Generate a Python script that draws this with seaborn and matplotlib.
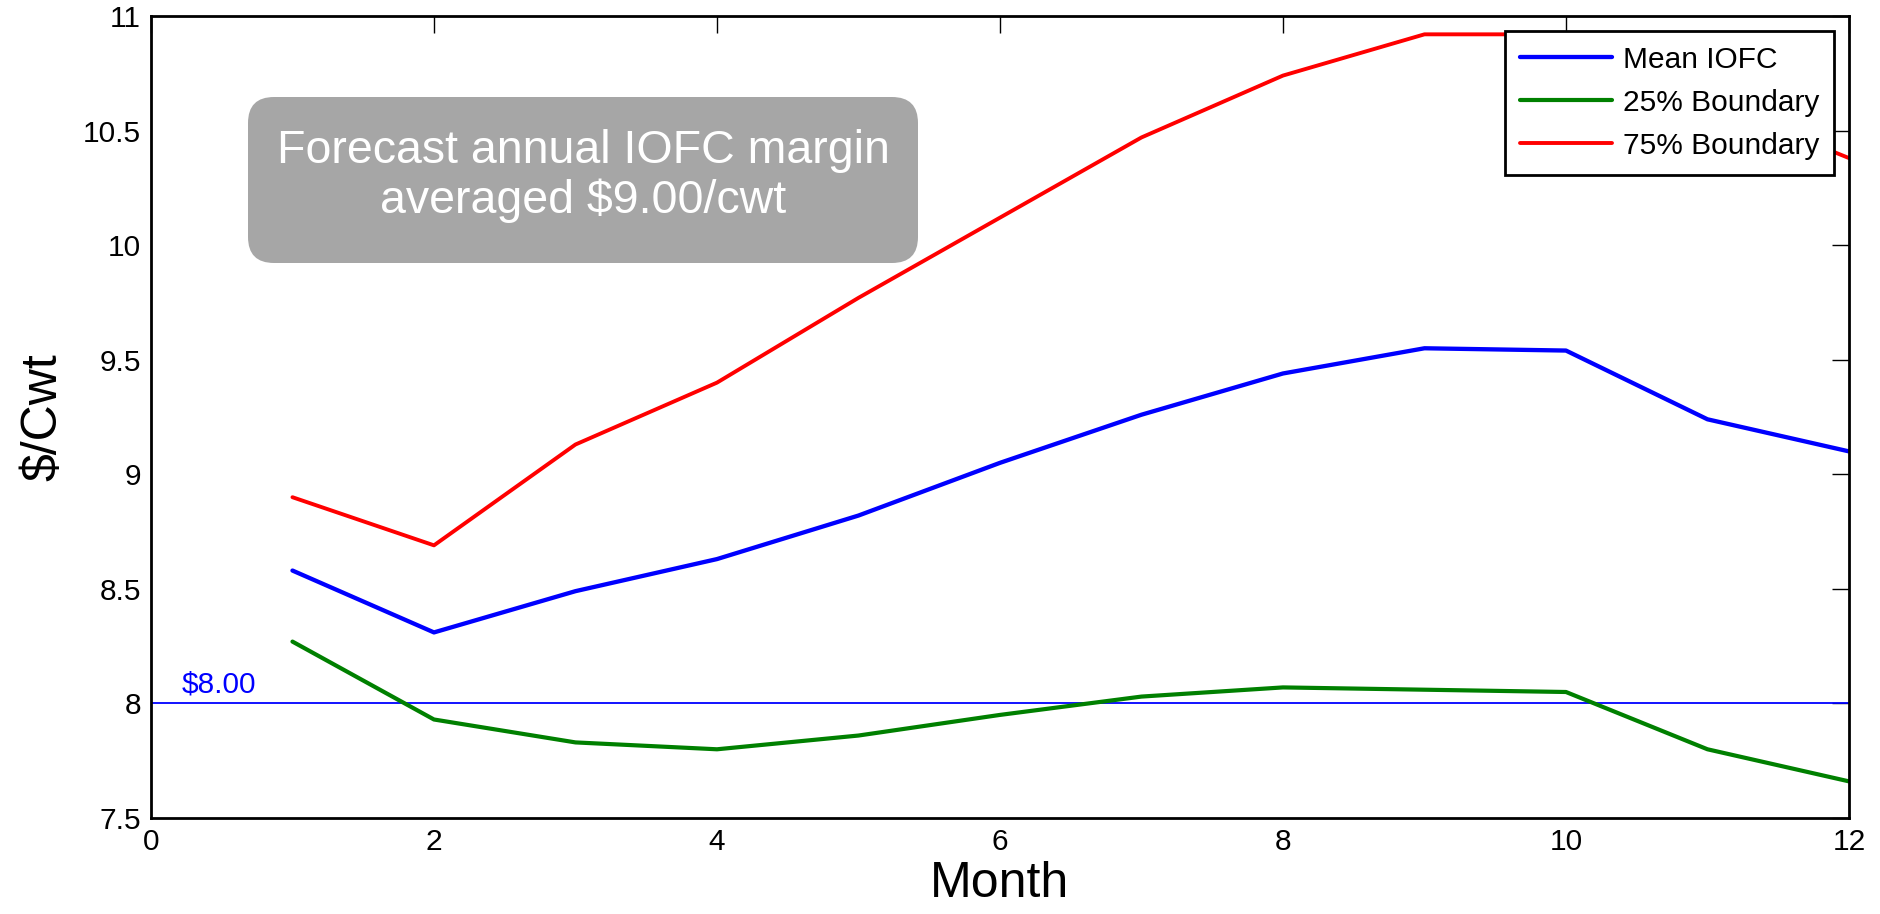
import numpy as np
import pandas as pd
import matplotlib
matplotlib.use("Agg")
import matplotlib.pyplot as plt
import seaborn as sns
from matplotlib.patches import FancyBboxPatch
from matplotlib.transforms import IdentityTransform

# values
months = [1, 2, 3, 4, 5, 6, 7, 8, 9, 10, 11, 12]
mean_iofc = [8.58, 8.31, 8.49, 8.63, 8.82, 9.05, 9.26, 9.44, 9.55, 9.54, 9.24, 9.10]
low_25 = [8.27, 7.93, 7.83, 7.80, 7.86, 7.95, 8.03, 8.07, 8.06, 8.05, 7.80, 7.66]
high_75 = [8.90, 8.69, 9.13, 9.40, 9.77, 10.12, 10.47, 10.74, 10.92, 10.92, 10.63, 10.38]
series_names = ["Mean IOFC", "25% Boundary", "75% Boundary"]
series_colors = ["#0000FF", "#008000", "#FF0000"]
ref_level = 8.0
ref_label = "$8.00"
note_text = "Forecast annual IOFC margin\naveraged $9.00/cwt"
x_ticks = [0, 2, 4, 6, 8, 10, 12]
y_ticks = [7.5, 8, 8.5, 9, 9.5, 10, 10.5, 11]
y_ticklabels = ["7.5", "8", "8.5", "9", "9.5", "10", "10.5", "11"]

df = pd.DataFrame({
    "Month": months * 3,
    "value": mean_iofc + low_25 + high_75,
    "series": np.repeat(series_names, len(months)),
})

sns.set_style("white")
plt.rcParams["font.family"] = ["Liberation Sans", "DejaVu Sans"]
plt.rcParams["text.color"] = "black"
plt.rcParams["axes.labelcolor"] = "black"

fig = plt.figure(figsize=(18.8, 9.14), dpi=100)
ax = fig.add_axes([0.0803, 0.105, 0.9032, 0.8775])

widths = {"Mean IOFC": 3.1, "25% Boundary": 3.0, "75% Boundary": 2.8}
for name, col in zip(series_names, series_colors):
    sub = df[df["series"] == name]
    sns.lineplot(data=sub, x="Month", y="value", color=col, lw=widths[name],
                 label=name, ax=ax, legend=False)

ax.axhline(ref_level, color="#0000FF", lw=1.3, zorder=1)
ax.text(0.22, ref_level + 0.02, ref_label, color="#0000FF", fontsize=21.5,
        ha="left", va="bottom")

ax.set_xlim(0, 12)
ax.set_ylim(7.5, 11)
ax.set_xticks(x_ticks)
ax.set_yticks(y_ticks)
ax.set_yticklabels(y_ticklabels)
ax.tick_params(axis="both", direction="in", length=12.5, width=1.0, labelsize=21.5,
               top=True, right=True, colors="black")
ax.tick_params(axis="x", pad=7)
ax.tick_params(axis="y", pad=7)
for sp in ax.spines.values():
    sp.set_color("black")
    sp.set_linewidth(2.0)

ax.set_xlabel("Month", fontsize=36, labelpad=4)
ax.set_ylabel("$/Cwt", fontsize=36, labelpad=12)

leg = ax.legend(loc="upper right", fontsize=21.5, frameon=True, fancybox=False,
                handlelength=3.1, handletextpad=0.35, labelspacing=0.5,
                borderaxespad=0.5, borderpad=0.5)
leg.get_frame().set_edgecolor("black")
leg.get_frame().set_linewidth(2.0)
leg.get_frame().set_alpha(1)

# grey rounded note box (pixel coordinates)
box = FancyBboxPatch((248, 914 - 263), 670, 166,
                     boxstyle="round,pad=0,rounding_size=26",
                     facecolor="#a6a6a6", edgecolor="none",
                     transform=IdentityTransform())
fig.add_artist(box)
fig.text(583 / 1880, 1 - 176 / 914, note_text, color="white", fontsize=33.5,
         ha="center", va="center", linespacing=1.15)

fig.savefig("out.png", dpi=100)
